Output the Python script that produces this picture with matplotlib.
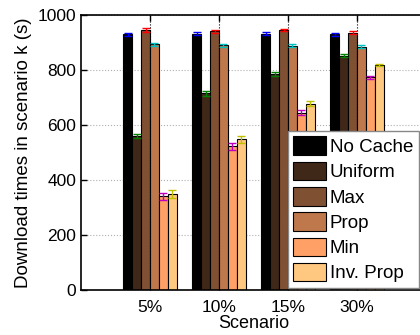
import numpy as np
import matplotlib.pyplot as plt

plt.rcParams['font.family'] = ['Liberation Sans', 'DejaVu Sans']

scenarios = ['5%', '10%', '15%', '30%']
policies = ['No Cache', 'Uniform', 'Max', 'Prop', 'Min', 'Inv. Prop']

# mean download time per policy, one value per scenario
no_cache = [930, 932, 932, 930]
uniform = [560, 715, 785, 852]
max_pol = [945, 940, 945, 935]
prop = [893, 890, 888, 885]
min_pol = [340, 522, 645, 773]
inv_prop = [350, 548, 678, 818]

# half-width of the error bars
no_cache_err = [6, 5, 5, 6]
uniform_err = [8, 10, 6, 6]
max_err = [6, 5, 5, 5]
prop_err = [5, 5, 5, 5]
min_err = [12, 12, 8, 5]
inv_prop_err = [15, 12, 8, 5]

means = [no_cache, uniform, max_pol, prop, min_pol, inv_prop]
errs = [no_cache_err, uniform_err, max_err, prop_err, min_err, inv_prop_err]

# copper colormap, 6 levels
bar_colors = ['#000000', '#402819', '#805033', '#bf784c', '#ffa066', '#ffc880']
err_colors = ['#0000ff', '#008000', '#ff0000', '#00bfbf', '#bf00bf', '#bfbf00']

fig = plt.figure(figsize=(4.2, 3.35), dpi=100)
ax = fig.add_axes([81 / 420, 45 / 335, 345 / 420, 275 / 335])

x = np.arange(1, len(scenarios) + 1)
w = 0.13
for i, (m, e) in enumerate(zip(means, errs)):
    pos = x + (i - 2.5) * w
    ax.bar(pos, m, width=w, color=bar_colors[i], edgecolor='black',
           linewidth=0.8, label=policies[i], zorder=2)
    ax.errorbar(pos, m, yerr=e, fmt='none', ecolor=err_colors[i],
                elinewidth=1, capsize=3, capthick=1, zorder=3)

for xi in x:
    ax.axvline(xi, color='black', linestyle=':', linewidth=0.8, zorder=4)

ax.set_xlim(0, 5)
ax.set_ylim(0, 1000)
ax.set_xticks(x)
ax.set_xticklabels(scenarios)
ax.set_yticks([0, 200, 400, 600, 800, 1000])
ax.yaxis.grid(True, color='#b0b0b0', linestyle=':', linewidth=0.8)
ax.set_axisbelow(True)
ax.tick_params(direction='in', length=4, width=1, labelsize=12.5,
               top=True, right=True)
ax.tick_params(axis='x', pad=7)
for s in ax.spines.values():
    s.set_linewidth(1.2)

ax.set_xlabel('Scenario', fontsize=13, labelpad=0)
ax.set_ylabel('Download times in scenario k (s)', fontsize=13.5, labelpad=4)

ax.legend(loc='lower right', bbox_to_anchor=(0.985, 0.0), fontsize=13.5,
          frameon=True, fancybox=False, edgecolor='#888888', framealpha=1,
          handlelength=1.75, handleheight=1.15, handletextpad=0.2,
          labelspacing=0.3, borderpad=0.3, borderaxespad=0.1)

fig.savefig('out.png', dpi=100)
